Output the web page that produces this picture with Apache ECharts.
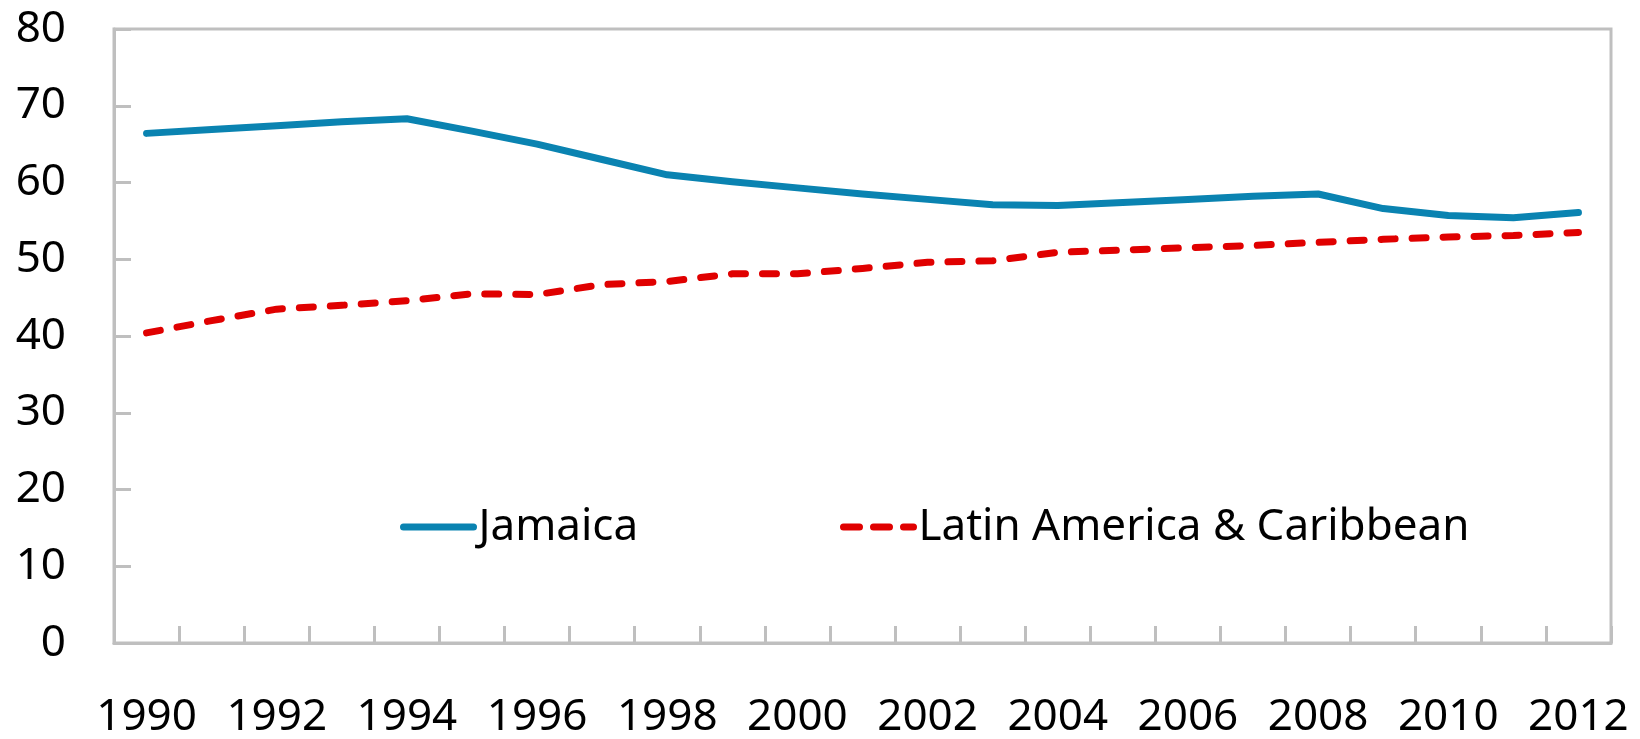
<!DOCTYPE html>
<html>
<head>
<meta charset="utf-8">
<script src="https://cdn.jsdelivr.net/npm/echarts@6/dist/echarts.min.js"></script>
<style>html,body{margin:0;padding:0;background:#fff}#c{width:1640px;height:739px}</style>
</head>
<body>
<div id="c"></div>
<script>
var years = ['1990','1991','1992','1993','1994','1995','1996','1997','1998','1999','2000','2001','2002','2003','2004','2005','2006','2007','2008','2009','2010','2011','2012'];
var jamaica = [66.4, 66.9, 67.4, 67.9, 68.3, 66.7, 65.0, 63.0, 61.0, 60.1, 59.3, 58.5, 57.8, 57.1, 57.0, 57.4, 57.8, 58.2, 58.5, 56.6, 55.7, 55.4, 56.1];
var lac = [40.4, 42.0, 43.5, 44.0, 44.6, 45.5, 45.4, 46.7, 47.1, 48.1, 48.1, 48.8, 49.6, 49.8, 50.9, 51.2, 51.5, 51.8, 52.2, 52.6, 52.9, 53.1, 53.5];
var seriesNames = ['Jamaica', 'Latin America & Caribbean'];

var FONT = 'Noto Sans';
var BLUE = '#0a83b1', RED = '#e00000', GRAY = '#bfbfbf';
var chart = echarts.init(document.getElementById('c'));
chart.setOption({
  animation: false,
  backgroundColor: '#ffffff',
  textStyle: { fontFamily: FONT },
  grid: { left: 114, right: 29, top: 29, bottom: 92, show: true, borderColor: GRAY, borderWidth: 3, backgroundColor: 'transparent', z: 0 },
  legend: [
    { data: [seriesNames[0]], left: 395, top: 500, itemWidth: 70, itemHeight: 14, itemGap: 0,
      itemStyle: { opacity: 0 },
      lineStyle: { color: BLUE, width: 7, cap: 'round', type: 'solid' },
      textStyle: { fontSize: 44, color: '#000', fontFamily: FONT } },
    { data: [seriesNames[1]], left: 835, top: 500, itemWidth: 70, itemHeight: 14, itemGap: 0,
      itemStyle: { opacity: 0 },
      lineStyle: { color: RED, width: 7, cap: 'round', type: [16, 14] },
      textStyle: { fontSize: 44, color: '#000', fontFamily: FONT } }
  ],
  xAxis: {
    type: 'category',
    data: years,
    boundaryGap: true,
    z: 5,
    axisLine: { show: true, lineStyle: { color: GRAY, width: 3 } },
    axisTick: { show: true, inside: true, length: 17, interval: 0, lineStyle: { color: GRAY, width: 3 } },
    axisLabel: { interval: 1, fontSize: 44, color: '#000', margin: 52, fontFamily: FONT },
    splitLine: { show: false }
  },
  yAxis: {
    type: 'value',
    min: 0, max: 80, interval: 10,
    z: 5,
    axisLine: { show: true, lineStyle: { color: GRAY, width: 3 } },
    axisTick: { show: true, inside: true, length: 17, lineStyle: { color: GRAY, width: 3 } },
    axisLabel: { fontSize: 44, color: '#000', margin: 48, fontFamily: FONT },
    splitLine: { show: false }
  },
  series: [
    { name: seriesNames[0], type: 'line', data: jamaica, symbol: 'none', showSymbol: false,
      lineStyle: { color: BLUE, width: 7, cap: 'round', join: 'round' }, itemStyle: { color: BLUE } },
    { name: seriesNames[1], type: 'line', data: lac, symbol: 'none', showSymbol: false,
      lineStyle: { color: RED, width: 7, type: [14, 17], cap: 'round', join: 'round' }, itemStyle: { color: RED } }
  ]
});
</script>
</body>
</html>
